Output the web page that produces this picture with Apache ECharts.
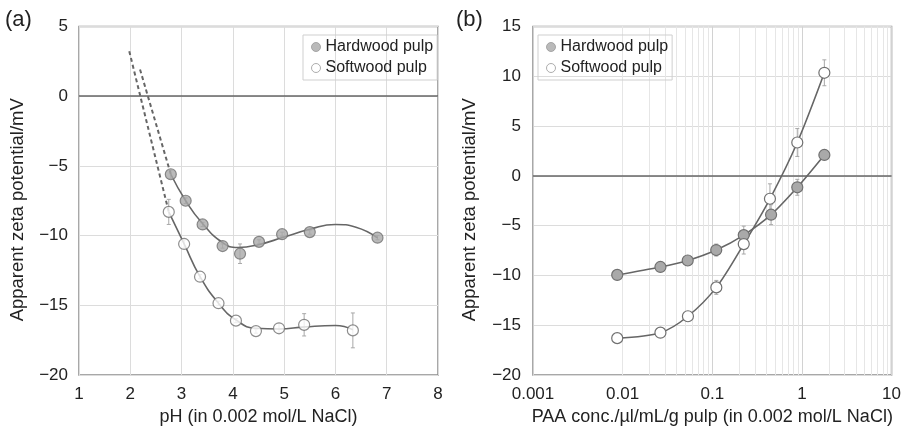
<!DOCTYPE html>
<html><head><meta charset="utf-8">
<script src="https://cdn.jsdelivr.net/npm/echarts@6/dist/echarts.min.js"></script>
<style>html,body{margin:0;padding:0;background:#fff}#c{width:904px;height:437px}</style>
</head><body><div id="c"></div>
<script>
// ---- Panel (a): pH ----
const phHard = [2.79, 3.08, 3.41, 3.80, 4.14, 4.51, 4.96, 5.50, 6.82];
const zHardA = [-5.6, -7.5, -9.2, -10.75, -11.3, -10.45, -9.9, -9.75, -10.15];
const errHardA = [0.3, 0.2, 0.15, 0.15, 0.7, 0.15, 0.15, 0.15, 0.15];
const phSoft = [2.75, 3.05, 3.36, 3.72, 4.06, 4.45, 4.90, 5.39, 6.34];
const zSoftA = [-8.3, -10.6, -12.95, -14.85, -16.1, -16.85, -16.65, -16.4, -16.8];
const errSoftA = [0.9, 0.3, 0.15, 0.15, 0.15, 0.15, 0.35, 0.8, 1.25];
// fitted curves
const fitHardX = [2.79, 3.08, 3.4, 3.8, 4.1, 4.5, 5.0, 5.5, 6.0, 6.4, 6.82];
const fitHardY = [-5.6, -7.5, -9.1, -10.5, -10.85, -10.65, -10.1, -9.55, -9.2, -9.4, -10.16];
const fitSoftX = [2.75, 3.05, 3.36, 3.72, 4.06, 4.45, 4.9, 5.4, 6.0, 6.34];
const fitSoftY = [-8.3, -10.6, -12.95, -14.85, -16.05, -16.65, -16.7, -16.55, -16.45, -16.75];
// dashed extrapolations
const dashHardX = [2.19, 2.79];
const dashHardY = [1.92, -5.6];
const dashSoftX = [1.98, 2.75];
const dashSoftY = [3.23, -8.3];

// ---- Panel (b): PAA concentration ----
const paaConc = [0.0087, 0.0264, 0.0532, 0.1107, 0.2245, 0.453, 0.888, 1.78];
const zHardB = [-9.95, -9.15, -8.5, -7.45, -5.95, -3.9, -1.15, 2.1];
const errHardB = [0.2, 0.2, 0.3, 0.6, 0.9, 1.0, 0.8, 0.4];
const paaConcSoft = [0.0087, 0.0264, 0.0535, 0.111, 0.2245, 0.44, 0.888, 1.78];
const zSoftB = [-16.3, -15.75, -14.1, -11.2, -6.85, -2.3, 3.35, 10.35];
const errSoftB = [0.3, 0.2, 0.2, 0.7, 1.0, 1.5, 1.4, 1.3];

const xTicksA = [1, 2, 3, 4, 5, 6, 7, 8];
const xTickLabelsB = ['0.001', '0.01', '0.1', '1', '10'];
const minorGridB = [];
[0.001, 0.01, 0.1, 1].forEach(d => { for (let k = 2; k <= 9; k++) minorGridB.push(+(d * k).toPrecision(3)); });

const FONT = "'Liberation Sans', Arial, sans-serif";
const TXT = '#222';
const pairs = (xs, ys) => xs.map((x, i) => [x, ys[i]]);
const errData = (xs, ys, es) => xs.map((x, i) => [x, ys[i] - es[i], ys[i] + es[i]]);
const yFmt = v => v < 0 ? '\u2212' + (-v) : String(v);

function errSeries(xi, yi, data) {
  return {
    type: 'custom', xAxisIndex: xi, yAxisIndex: yi, silent: true, z: 1,
    data: data,
    renderItem: (params, api) => {
      const x = api.value(0);
      const p1 = api.coord([x, api.value(1)]);
      const p2 = api.coord([x, api.value(2)]);
      const st = { stroke: '#a8a8a8', lineWidth: 1 };
      return { type: 'group', children: [
        { type: 'line', shape: { x1: p1[0], y1: p1[1], x2: p2[0], y2: p2[1] }, style: st },
        { type: 'line', shape: { x1: p1[0] - 2, y1: p1[1], x2: p1[0] + 2, y2: p1[1] }, style: st },
        { type: 'line', shape: { x1: p2[0] - 2, y1: p2[1], x2: p2[0] + 2, y2: p2[1] }, style: st }
      ]};
    }
  };
}

const hardStyle = { color: '#a9a9a9', borderColor: '#707070', borderWidth: 1.2 };
const softStyle = { color: '#ffffff', borderColor: '#707070', borderWidth: 1.2 };
const lineSt = { color: '#666', width: 1.6 };

const axisLabel = { color: TXT, fontSize: 17, fontFamily: FONT };
const nameText = { color: TXT, fontSize: 18, fontFamily: FONT };
const nameTextY = { color: TXT, fontSize: 18.5, fontFamily: FONT, padding: [0, 18, 0, 0] };
const split = { show: true, lineStyle: { color: '#dcdcdc', width: 1 } };

const chart = echarts.init(document.getElementById('c'));
chart.setOption({
  animation: false,
  graphic: [
    { type: 'text', left: 5, top: 9, style: { text: '(a)', font: '22px ' + FONT, fill: TXT } },
    { type: 'text', left: 456, top: 9, style: { text: '(b)', font: '22px ' + FONT, fill: TXT } }
  ],
  grid: [
    { left: 79, right: 466, top: 26.5, bottom: 62, show: true, borderColor: '#8c8c8c', borderWidth: 1.5 },
    { left: 533, right: 11, top: 26.5, bottom: 62, show: true, borderColor: '#8c8c8c', borderWidth: 1.5 }
  ],
  legend: [
    { data: [{ name: 'Hardwood pulp', icon: 'circle', itemStyle: { color: '#a9a9a9', borderColor: '#999', borderWidth: 1 } },
             { name: 'Softwood pulp', icon: 'circle', itemStyle: { color: '#fff', borderColor: '#999', borderWidth: 1 } }],
      orient: 'vertical', left: 303, top: 35, itemWidth: 9, itemHeight: 9, itemGap: 5,
      padding: [4, 4, 4, 8], borderColor: '#cfcfcf', borderWidth: 1, selectedMode: false,
      textStyle: { color: TXT, fontSize: 16, fontFamily: FONT } },
    { data: [{ name: 'Hardwood pulp', icon: 'circle', itemStyle: { color: '#a9a9a9', borderColor: '#999', borderWidth: 1 } },
             { name: 'Softwood pulp', icon: 'circle', itemStyle: { color: '#fff', borderColor: '#999', borderWidth: 1 } }],
      orient: 'vertical', left: 538, top: 35, itemWidth: 9, itemHeight: 9, itemGap: 5,
      padding: [4, 4, 4, 8], borderColor: '#cfcfcf', borderWidth: 1, selectedMode: false,
      textStyle: { color: TXT, fontSize: 16, fontFamily: FONT } }
  ],
  xAxis: [
    { gridIndex: 0, type: 'value', min: xTicksA[0], max: xTicksA[xTicksA.length - 1], interval: 1,
      name: 'pH (in 0.002 mol/L NaCl)', nameLocation: 'middle', nameGap: 28, nameTextStyle: nameText,
      axisLine: { show: false }, axisTick: { show: false }, axisLabel: Object.assign({ margin: 11 }, axisLabel), splitLine: split },
    { gridIndex: 1, type: 'log', logBase: 10, min: 0.001, max: 10,
      name: 'PAA conc./\u00b5l/mL/g pulp (in 0.002 mol/L NaCl)', nameLocation: 'middle', nameGap: 28, nameTextStyle: nameText,
      axisLine: { show: false }, axisTick: { show: false },
      axisLabel: Object.assign({ margin: 11, formatter: v => xTickLabelsB[Math.round(Math.log10(v)) + 3] }, axisLabel),
      splitLine: { show: true, lineStyle: { color: '#d2d2d2', width: 1 } } }
  ],
  yAxis: [
    { gridIndex: 0, type: 'value', min: -20, max: 5, interval: 5,
      name: 'Apparent zeta potential/mV', nameLocation: 'middle', nameGap: 52, nameTextStyle: nameTextY,
      axisLine: { show: false }, axisTick: { show: false }, axisLabel: Object.assign({ margin: 11, formatter: yFmt }, axisLabel), splitLine: split },
    { gridIndex: 1, type: 'value', min: -20, max: 15, interval: 5,
      name: 'Apparent zeta potential/mV', nameLocation: 'middle', nameGap: 54, nameTextStyle: nameTextY,
      axisLine: { show: false }, axisTick: { show: false }, axisLabel: Object.assign({ margin: 12, formatter: yFmt }, axisLabel), splitLine: split }
  ],
  series: [
    // zero lines & minor grid
    { type: 'line', xAxisIndex: 0, yAxisIndex: 0, data: [], silent: true,
      markLine: { silent: true, symbol: 'none', label: { show: false }, lineStyle: { color: '#666', width: 1.5, type: 'solid' }, data: [{ yAxis: 0 }] } },
    { type: 'line', xAxisIndex: 1, yAxisIndex: 1, data: [], silent: true, z: 0,
      markLine: { silent: true, symbol: 'none', label: { show: false }, z: 0, lineStyle: { color: '#e6e6e6', width: 1, type: 'solid' },
        data: minorGridB.map(v => ({ xAxis: v })) } },
    { type: 'line', xAxisIndex: 1, yAxisIndex: 1, data: [], silent: true,
      markLine: { silent: true, symbol: 'none', label: { show: false }, lineStyle: { color: '#666', width: 1.5, type: 'solid' }, data: [{ yAxis: 0 }] } },
    // panel a
    { name: 'hw-dash', type: 'line', xAxisIndex: 0, yAxisIndex: 0, data: pairs(dashHardX, dashHardY), showSymbol: false,
      lineStyle: { color: '#666', width: 2, type: [4, 3] } },
    { name: 'sw-dash', type: 'line', xAxisIndex: 0, yAxisIndex: 0, data: pairs(dashSoftX, dashSoftY), showSymbol: false,
      lineStyle: { color: '#666', width: 2, type: [4, 3] } },
    { name: 'hw-fit', type: 'line', xAxisIndex: 0, yAxisIndex: 0, data: pairs(fitHardX, fitHardY), showSymbol: false, smooth: 0.5, lineStyle: lineSt },
    { name: 'sw-fit', type: 'line', xAxisIndex: 0, yAxisIndex: 0, data: pairs(fitSoftX, fitSoftY), showSymbol: false, smooth: 0.5, lineStyle: lineSt },
    errSeries(0, 0, errData(phHard, zHardA, errHardA)),
    errSeries(0, 0, errData(phSoft, zSoftA, errSoftA)),
    { name: 'Hardwood pulp', type: 'scatter', xAxisIndex: 0, yAxisIndex: 0, data: pairs(phHard, zHardA), symbolSize: 11, itemStyle: hardStyle, z: 5 },
    { name: 'Softwood pulp', type: 'scatter', xAxisIndex: 0, yAxisIndex: 0, data: pairs(phSoft, zSoftA), symbolSize: 11, itemStyle: softStyle, z: 5 },
    // panel b
    errSeries(1, 1, errData(paaConc, zHardB, errHardB)),
    errSeries(1, 1, errData(paaConcSoft, zSoftB, errSoftB)),
    { name: 'Hardwood pulp', type: 'line', xAxisIndex: 1, yAxisIndex: 1, data: pairs(paaConc, zHardB), smooth: 0.3,
      symbol: 'circle', symbolSize: 11, itemStyle: hardStyle, lineStyle: lineSt, z: 5 },
    { name: 'Softwood pulp', type: 'line', xAxisIndex: 1, yAxisIndex: 1, data: pairs(paaConcSoft, zSoftB), smooth: 0.3,
      symbol: 'circle', symbolSize: 11, itemStyle: softStyle, lineStyle: lineSt, z: 5 }
  ]
});
</script></body></html>
